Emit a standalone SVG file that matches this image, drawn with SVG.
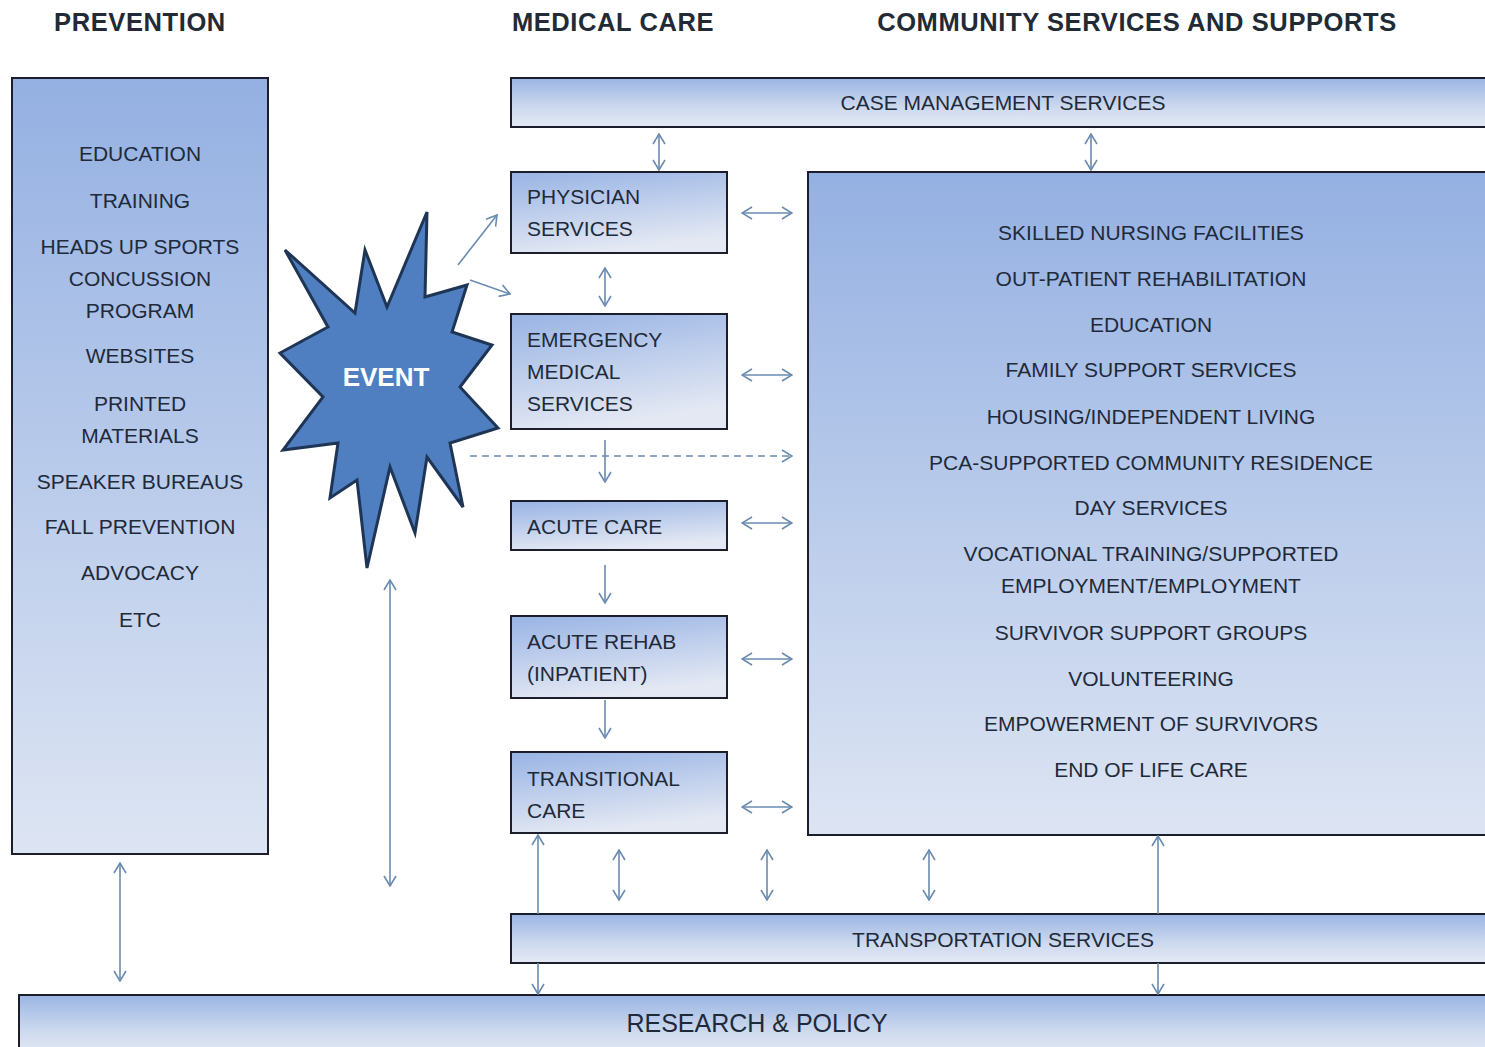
<svg xmlns="http://www.w3.org/2000/svg" width="1485" height="1047" viewBox="0 0 1485 1047">
<style>
.hdr{font-family:"Liberation Sans",Arial,sans-serif;font-size:25.5px;font-weight:bold;letter-spacing:0.6px;fill:#222a36}
.t{font-family:"Liberation Sans",Arial,sans-serif;font-size:21px;fill:#1e2a3a}
.c{text-anchor:middle}
.box{stroke:#1c1f2b;stroke-width:2}
.ar{stroke:#6a8bb0;stroke-width:1.6;fill:none}
.ev{font-family:"Liberation Sans",Arial,sans-serif;font-size:26px;font-weight:bold;fill:#ffffff;text-anchor:middle}
</style>
<defs>
<linearGradient id="gBig" x1="0" y1="0" x2="0" y2="1">
<stop offset="0" stop-color="#94b0e2"/>
<stop offset="1" stop-color="#dde5f3"/>
</linearGradient>
<linearGradient id="gBox" x1="0" y1="0" x2="0.3" y2="1">
<stop offset="0" stop-color="#98b3e4"/>
<stop offset="1" stop-color="#e3e8f3"/>
</linearGradient>
<linearGradient id="gBar" x1="0" y1="0" x2="0" y2="1">
<stop offset="0" stop-color="#9ab5e4"/>
<stop offset="0.6" stop-color="#cdd9ee"/>
<stop offset="1" stop-color="#e4eaf5"/>
</linearGradient>
<marker id="ah" viewBox="0 0 12 14" refX="11" refY="7" markerWidth="12" markerHeight="14" markerUnits="userSpaceOnUse" orient="auto-start-reverse">
<path d="M1,1 L11,7 L1,13" fill="none" stroke="#6a8bb0" stroke-width="1.6"/>
</marker>
</defs>
<rect x="0" y="0" width="1485" height="1047" fill="#ffffff"/>

<g id="headers">
<text class="hdr c" x="140" y="31">PREVENTION</text>
<text class="hdr c" x="613" y="31">MEDICAL CARE</text>
<text class="hdr c" x="1137" y="31">COMMUNITY SERVICES AND SUPPORTS</text>
</g>

<g id="prevention">
<rect class="box" x="12" y="78" width="256" height="776" fill="url(#gBig)"/>
<text class="t c" x="140" y="161">EDUCATION</text>
<text class="t c" x="140" y="208">TRAINING</text>
<text class="t c" x="140" y="254">HEADS UP SPORTS</text>
<text class="t c" x="140" y="286">CONCUSSION</text>
<text class="t c" x="140" y="318">PROGRAM</text>
<text class="t c" x="140" y="363">WEBSITES</text>
<text class="t c" x="140" y="411">PRINTED</text>
<text class="t c" x="140" y="443">MATERIALS</text>
<text class="t c" x="140" y="489">SPEAKER BUREAUS</text>
<text class="t c" x="140" y="534">FALL PREVENTION</text>
<text class="t c" x="140" y="580">ADVOCACY</text>
<text class="t c" x="140" y="627">ETC</text>
</g>

<g id="event">
<polygon points="285,250 355,313 365,250 387,307 427,212 425,297 467,285 452,332 492,345 460,387 498,428 450,443 463,507 427,457 415,533 390,467 367,568 357,480 330,498 338,443 283,450 323,397 280,353 328,327" fill="#4f7fc0" stroke="#1f3556" stroke-width="3" stroke-linejoin="miter"/>
<text class="ev" x="386" y="386">EVENT</text>
</g>

<g id="case-management">
<rect class="box" x="511" y="78" width="990" height="49" fill="url(#gBar)"/>
<text class="t c" x="1003" y="110">CASE MANAGEMENT SERVICES</text>
</g>

<g id="physician">
<rect class="box" x="511" y="172" width="216" height="81" fill="url(#gBox)"/>
<text class="t" x="527" y="204">PHYSICIAN</text>
<text class="t" x="527" y="236">SERVICES</text>
</g>

<g id="emergency">
<rect class="box" x="511" y="314" width="216" height="115" fill="url(#gBox)"/>
<text class="t" x="527" y="347">EMERGENCY</text>
<text class="t" x="527" y="379">MEDICAL</text>
<text class="t" x="527" y="411">SERVICES</text>
</g>

<g id="acute-care">
<rect class="box" x="511" y="501" width="216" height="49" fill="url(#gBox)"/>
<text class="t" x="527" y="534">ACUTE CARE</text>
</g>

<g id="acute-rehab">
<rect class="box" x="511" y="616" width="216" height="82" fill="url(#gBox)"/>
<text class="t" x="527" y="649">ACUTE REHAB</text>
<text class="t" x="527" y="681">(INPATIENT)</text>
</g>

<g id="transitional">
<rect class="box" x="511" y="752" width="216" height="81" fill="url(#gBox)"/>
<text class="t" x="527" y="786">TRANSITIONAL</text>
<text class="t" x="527" y="818">CARE</text>
</g>

<g id="community">
<rect class="box" x="808" y="172" width="693" height="663" fill="url(#gBig)"/>
<text class="t c" x="1151" y="240">SKILLED NURSING FACILITIES</text>
<text class="t c" x="1151" y="286">OUT-PATIENT REHABILITATION</text>
<text class="t c" x="1151" y="332">EDUCATION</text>
<text class="t c" x="1151" y="377">FAMILY SUPPORT SERVICES</text>
<text class="t c" x="1151" y="424">HOUSING/INDEPENDENT LIVING</text>
<text class="t c" x="1151" y="470">PCA-SUPPORTED COMMUNITY RESIDENCE</text>
<text class="t c" x="1151" y="515">DAY SERVICES</text>
<text class="t c" x="1151" y="561">VOCATIONAL TRAINING/SUPPORTED</text>
<text class="t c" x="1151" y="593">EMPLOYMENT/EMPLOYMENT</text>
<text class="t c" x="1151" y="640">SURVIVOR SUPPORT GROUPS</text>
<text class="t c" x="1151" y="686">VOLUNTEERING</text>
<text class="t c" x="1151" y="731">EMPOWERMENT OF SURVIVORS</text>
<text class="t c" x="1151" y="777">END OF LIFE CARE</text>
</g>

<g id="transportation">
<rect class="box" x="511" y="914" width="990" height="49" fill="url(#gBar)"/>
<text class="t c" x="1003" y="947">TRANSPORTATION SERVICES</text>
</g>

<g id="research">
<rect class="box" x="19" y="995" width="1482" height="60" fill="url(#gBar)"/>
<text class="t c" x="757" y="1032" style="font-size:25px">RESEARCH &amp; POLICY</text>
</g>

<g id="connectors">
<line class="ar" x1="659" y1="134" x2="659" y2="170" marker-start="url(#ah)" marker-end="url(#ah)"/>
<line class="ar" x1="1091" y1="134" x2="1091" y2="170" marker-start="url(#ah)" marker-end="url(#ah)"/>
<line class="ar" x1="742" y1="213" x2="792" y2="213" marker-start="url(#ah)" marker-end="url(#ah)"/>
<line class="ar" x1="605" y1="268" x2="605" y2="306" marker-start="url(#ah)" marker-end="url(#ah)"/>
<line class="ar" x1="458" y1="265" x2="497" y2="215" marker-end="url(#ah)"/>
<line class="ar" x1="470" y1="280" x2="510" y2="294" marker-end="url(#ah)"/>
<line class="ar" x1="742" y1="375" x2="792" y2="375" marker-start="url(#ah)" marker-end="url(#ah)"/>
<line class="ar" x1="470" y1="456" x2="792" y2="456" stroke-dasharray="7,5" marker-end="url(#ah)"/>
<line class="ar" x1="605" y1="440" x2="605" y2="482" marker-end="url(#ah)"/>
<line class="ar" x1="742" y1="523" x2="792" y2="523" marker-start="url(#ah)" marker-end="url(#ah)"/>
<line class="ar" x1="605" y1="565" x2="605" y2="603" marker-end="url(#ah)"/>
<line class="ar" x1="742" y1="659" x2="792" y2="659" marker-start="url(#ah)" marker-end="url(#ah)"/>
<line class="ar" x1="605" y1="700" x2="605" y2="738" marker-end="url(#ah)"/>
<line class="ar" x1="742" y1="807" x2="792" y2="807" marker-start="url(#ah)" marker-end="url(#ah)"/>
<line class="ar" x1="390" y1="580" x2="390" y2="886" marker-start="url(#ah)" marker-end="url(#ah)"/>
<line class="ar" x1="120" y1="863" x2="120" y2="981" marker-start="url(#ah)" marker-end="url(#ah)"/>
<line class="ar" x1="538" y1="914" x2="538" y2="835" marker-end="url(#ah)"/>
<line class="ar" x1="538" y1="963" x2="538" y2="994" marker-end="url(#ah)"/>
<line class="ar" x1="1158" y1="914" x2="1158" y2="836" marker-end="url(#ah)"/>
<line class="ar" x1="1158" y1="963" x2="1158" y2="994" marker-end="url(#ah)"/>
<line class="ar" x1="619" y1="850" x2="619" y2="900" marker-start="url(#ah)" marker-end="url(#ah)"/>
<line class="ar" x1="767" y1="850" x2="767" y2="900" marker-start="url(#ah)" marker-end="url(#ah)"/>
<line class="ar" x1="929" y1="850" x2="929" y2="900" marker-start="url(#ah)" marker-end="url(#ah)"/>
</g>
</svg>
